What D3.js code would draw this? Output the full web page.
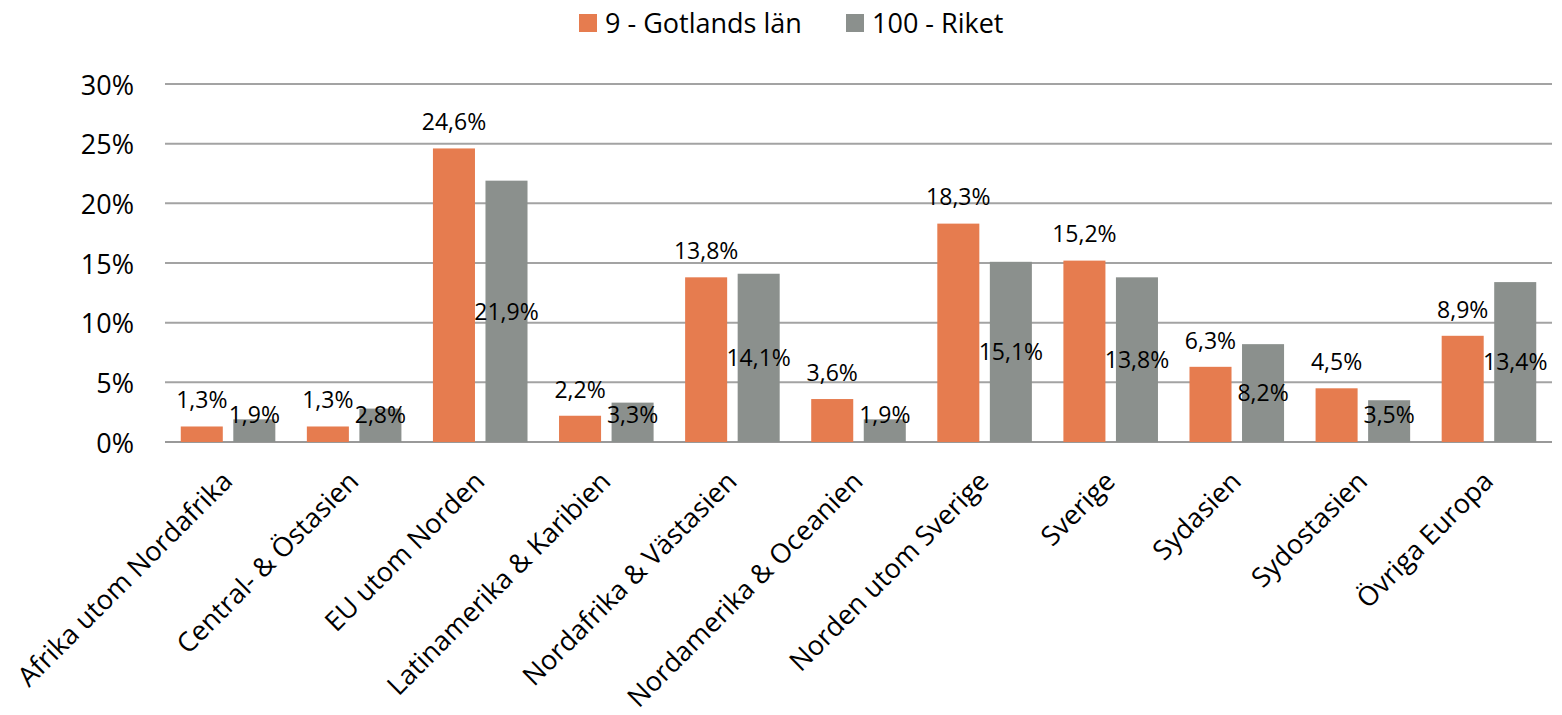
<!DOCTYPE html>
<html>
<head>
<meta charset="utf-8">
<script src="https://cdn.jsdelivr.net/npm/d3@7"></script>
<style>
  html, body { margin: 0; padding: 0; background: #fff; }
  svg { display: block; font-family: "Open Sans", sans-serif; }
</style>
</head>
<body>
<svg id="chart" width="1562" height="715"></svg>
<script>
const categories = ["Afrika utom Nordafrika", "Central- & Östasien", "EU utom Norden", "Latinamerika & Karibien", "Nordafrika & Västasien", "Nordamerika & Oceanien", "Norden utom Sverige", "Sverige", "Sydasien", "Sydostasien", "Övriga Europa"];
const seriesNames = ["9 - Gotlands län", "100 - Riket"];
const gotland = [1.3, 1.3, 24.6, 2.2, 13.8, 3.6, 18.3, 15.2, 6.3, 4.5, 8.9];
const riket = [1.9, 2.8, 21.9, 3.3, 14.1, 1.9, 15.1, 13.8, 8.2, 3.5, 13.4];
const yTicks = [0, 5, 10, 15, 20, 25, 30];
const colors = ["#e67c4f", "#8b908d"];

const svg = d3.select("#chart");
const plotLeft = 165, plotRight = 1552, plotTop = 84, plotBottom = 442;

const x = d3.scaleBand().domain(categories).range([plotLeft, plotRight]).padding(0);
const y = d3.scaleLinear().domain([0, 30]).range([plotBottom, plotTop]);
const fmt = v => d3.format(".1f")(v).replace(".", ",") + "%";

// gridlines
svg.append("g").selectAll("line").data(yTicks).join("line")
  .attr("x1", plotLeft).attr("x2", plotRight)
  .attr("y1", d => y(d)).attr("y2", d => y(d))
  .attr("stroke", d => d === 0 ? "#999" : "#a3a3a3")
  .attr("stroke-width", 2);

// y axis labels
const yAxis = d3.axisLeft(y).tickValues(yTicks).tickSize(0).tickPadding(0).tickFormat(d => d + "%");
const ya = svg.append("g").attr("transform", `translate(${134},0)`).call(yAxis);
ya.select(".domain").remove();
ya.selectAll("text").attr("font-size", 27).attr("fill", "#000")
  .attr("font-family", "Open Sans, sans-serif").attr("dy", "0.38em");

const band = x.bandwidth();
const barW = band / 3;
const outer = band * 0.125;
const gap = band / 12;
const data = [gotland, riket];

data.forEach((vals, si) => {
  const off = outer + si * (barW + gap);
  const g = svg.append("g");
  g.selectAll("rect").data(vals).join("rect")
    .attr("x", (d, i) => x(categories[i]) + off)
    .attr("width", barW)
    .attr("y", d => y(d))
    .attr("height", d => y(0) - y(d))
    .attr("fill", colors[si]);
  g.selectAll("text").data(vals).join("text")
    .attr("x", (d, i) => x(categories[i]) + off + barW / 2)
    .attr("y", d => si === 0 ? y(d) - 26.5 : Math.min((y(d) + y(0)) / 2, y(0) - 27))
    .attr("dy", "0.36em")
    .attr("text-anchor", "middle")
    .attr("font-size", 23)
    .attr("fill", "#000")
    .text(d => fmt(d));
});

// category labels
svg.append("g").selectAll("text").data(categories).join("text")
  .attr("transform", d => `translate(${x(d) + band / 2 + 6},${plotBottom + 41}) rotate(-45)`)
  .attr("text-anchor", "end")
  .attr("font-size", 27)
  .attr("fill", "#000")
  .text(d => d);

// legend
const legendItems = [{name: seriesNames[0], sx: 579, tx: 605}, {name: seriesNames[1], sx: 846, tx: 872}];
const lg = svg.append("g");
legendItems.forEach((it, i) => {
  lg.append("rect").attr("x", it.sx).attr("y", 14).attr("width", 18).attr("height", 18).attr("fill", colors[i]);
  lg.append("text").attr("x", it.tx).attr("y", 23).attr("dy", "0.36em")
    .attr("font-size", 27).attr("fill", "#000").text(it.name);
});
</script>
</body>
</html>
